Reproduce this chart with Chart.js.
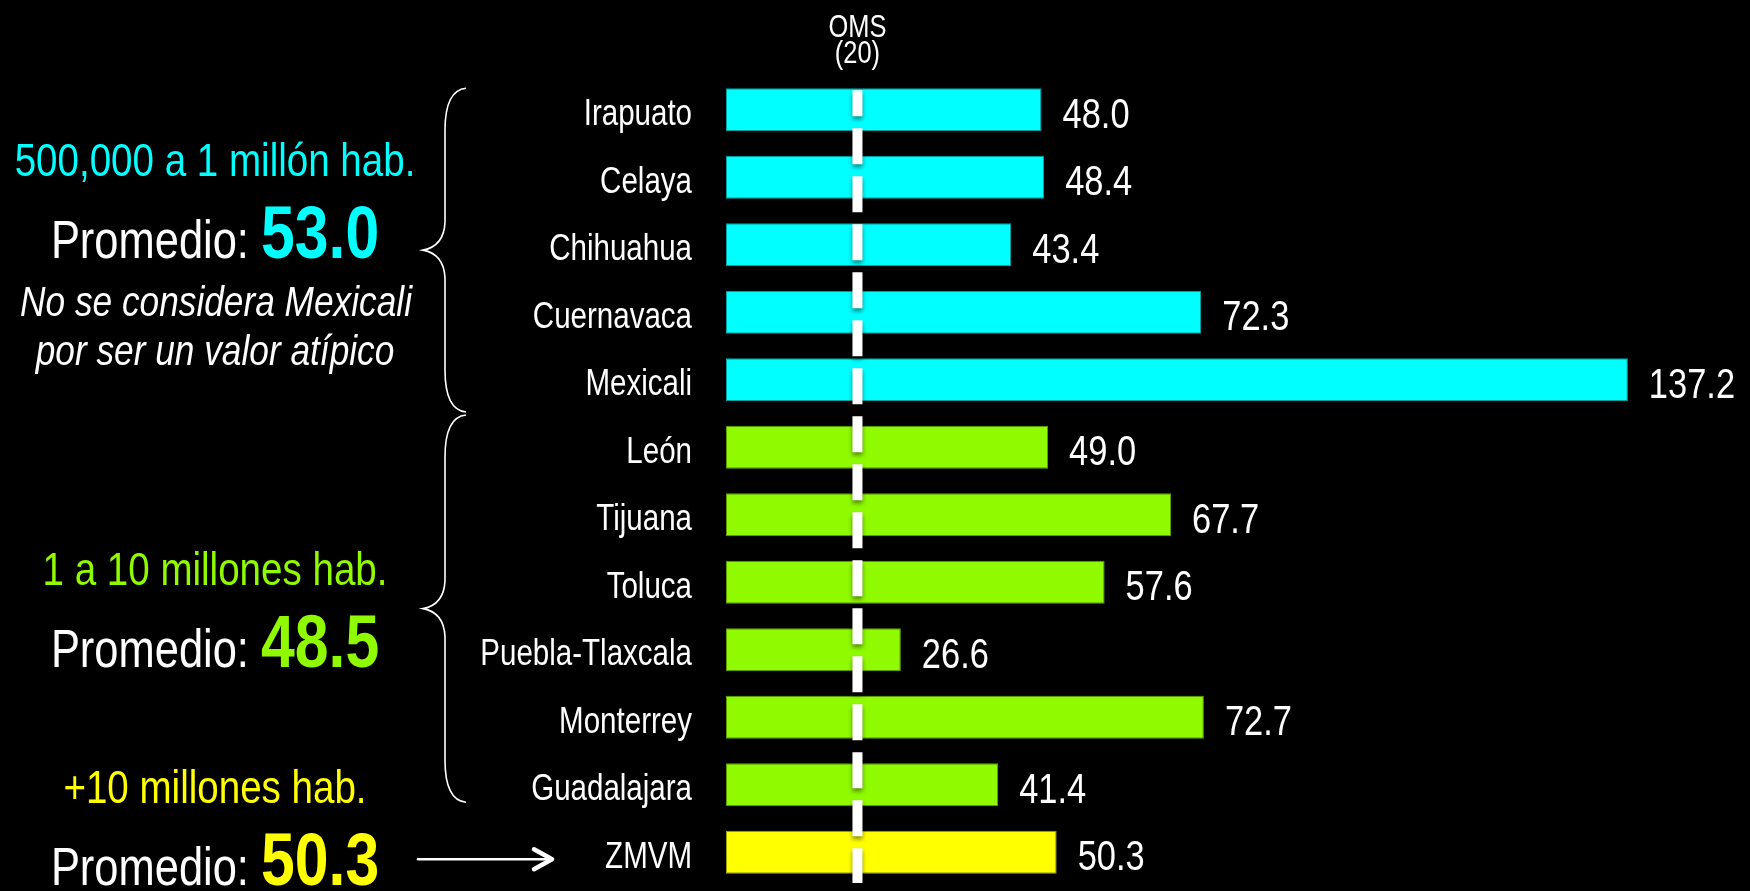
<!DOCTYPE html>
<html><head><meta charset="utf-8">
<script src="https://cdn.jsdelivr.net/npm/chart.js@4.4.0/dist/chart.umd.min.js"></script>
<style>html,body{margin:0;padding:0;background:#000;overflow:hidden}#wrap{position:relative;width:1750px;height:891px}</style>
</head><body><div id="wrap"><canvas id="c" width="1750" height="891"></canvas></div>
<script>
// ---- data ----
const cities = ['Irapuato','Celaya','Chihuahua','Cuernavaca','Mexicali','León','Tijuana','Toluca','Puebla-Tlaxcala','Monterrey','Guadalajara','ZMVM'];
const pm10 = [48.0,48.4,43.4,72.3,137.2,49.0,67.7,57.6,26.6,72.7,41.4,50.3];
const groupOf = [0,0,0,0,0,1,1,1,1,1,1,2];
const groupNames = ['500,000 a 1 millón hab.','1 a 10 millones hab.','+10 millones hab.'];
const groupAverages = ['53.0','48.5','50.3'];
const groupColors = ['#00FFFF','#8FFA00','#FFFF00'];
const groupBorders = ['#00A3A3','#5E9F00','#A3A300'];
const omsLimit = 20;
const omsLabel = ['OMS','(20)'];
const promedioLabel = 'Promedio: ';
const noteLines = ['No se considera Mexicali','por ser un valor atípico'];

// ---- fonts (Arial Narrow look: condensed Liberation Sans if no narrow face is installed) ----
function hasFont(name){const c=document.createElement('canvas').getContext('2d');const s='IrapuatoMWmw 0123';c.font='40px monospace';const a=c.measureText(s).width;c.font='40px "'+name+'", monospace';return Math.abs(c.measureText(s).width-a)>0.5;}
const narrowOK = hasFont('Liberation Sans Narrow');
const NARROW = narrowOK ? '"Liberation Sans Narrow"' : '"Liberation Sans"';
const SX = narrowOK ? 1 : 0.82;
function fontStr(size, weight, style){return (style||'normal')+' '+(weight||'normal')+' '+size+'px '+NARROW;}
function measure(ctx, s, size, weight, style){ctx.save();ctx.font=fontStr(size,weight,style);const w=ctx.measureText(s).width*SX;ctx.restore();return w;}
function drawText(ctx, s, x, y, size, o){o=o||{};ctx.save();ctx.fillStyle=o.color||'#fff';ctx.textBaseline='alphabetic';ctx.textAlign=o.align||'left';ctx.font=fontStr(size,o.weight,o.style);ctx.translate(x,y);ctx.scale(SX,1);ctx.fillText(s,0,0);ctx.restore();}

// ---- plugin: category labels, OMS line, value labels, side annotations ----
const decor = {
  id:'decor',
  afterDatasetsDraw(chart){
    const ctx = chart.ctx, xs = chart.scales.x, ys = chart.scales.y, ca = chart.chartArea;
    const meta = chart.getDatasetMeta(0);
    const half = meta.data[0].height/2;
    // category labels on the y axis
    ys.ticks.forEach((t,i)=>{ drawText(ctx, ys.getLabelForValue(t.value), ys.right-34, ys.getPixelForTick(i)+15.5, 36, {align:'right'}); });
    // OMS dashed line
    const ox = xs.getPixelForValue(omsLimit);
    ctx.save();
    ctx.strokeStyle='#fff'; ctx.lineWidth=10; ctx.setLineDash([36,12]); ctx.lineDashOffset=10;
    ctx.shadowColor='rgba(0,0,0,0.45)'; ctx.shadowBlur=4; ctx.shadowOffsetY=3;
    ctx.beginPath(); ctx.moveTo(ox, meta.data[0].y-half+2); ctx.lineTo(ox, ca.bottom-3); ctx.stroke();
    ctx.restore();
    drawText(ctx, omsLabel[0], ox, 37, 31, {align:'center'});
    drawText(ctx, omsLabel[1], ox, 63, 31, {align:'center'});
    // value labels
    meta.data.forEach((el,i)=>{ drawText(ctx, pm10[i].toFixed(1), el.x+21, el.y+18, 42); });
    // left annotations
    const cx = 215;
    const promedio = (avg, color, base) => {
      const w1 = measure(ctx, promedioLabel, 53), w2 = measure(ctx, avg, 74, 'bold');
      const x0 = cx - (w1+w2)/2;
      drawText(ctx, promedioLabel, x0, base, 53);
      drawText(ctx, avg, x0+w1, base, 74, {weight:'bold', color});
    };
    drawText(ctx, groupNames[0], cx, 176, 47, {align:'center', color:groupColors[0]});
    promedio(groupAverages[0], groupColors[0], 258);
    drawText(ctx, noteLines[0], cx+1, 316, 43, {align:'center', style:'italic'});
    drawText(ctx, noteLines[1], cx, 365, 43, {align:'center', style:'italic'});
    drawText(ctx, groupNames[1], cx, 585, 47, {align:'center', color:groupColors[1]});
    promedio(groupAverages[1], groupColors[1], 667);
    drawText(ctx, groupNames[2], cx, 803, 47, {align:'center', color:groupColors[2]});
    promedio(groupAverages[2], groupColors[2], 885);
    // braces
    const brace = (top, bottom) => {
      const xe=466, xv=445, xt=423, mid=(top+bottom)/2, r=42, r2=28;
      ctx.beginPath();
      ctx.moveTo(xe, top);
      ctx.quadraticCurveTo(xv, top+2, xv, top+r);
      ctx.lineTo(xv, mid-r2);
      ctx.quadraticCurveTo(xv-1, mid-4, xt, mid);
      ctx.quadraticCurveTo(xv-1, mid+4, xv, mid+r2);
      ctx.lineTo(xv, bottom-r);
      ctx.quadraticCurveTo(xv, bottom-2, xe, bottom);
      ctx.stroke();
    };
    ctx.save(); ctx.strokeStyle='#fff'; ctx.lineWidth=1.6;
    const split = (meta.data[4].y + meta.data[5].y)/2;
    brace(meta.data[0].y-half, split-1.5);
    brace(split+1.5, meta.data[10].y+half-4);
    ctx.restore();
    // arrow to ZMVM
    const ay = meta.data[11].y+7;
    ctx.save(); ctx.strokeStyle='#fff'; ctx.lineCap='round';
    ctx.lineWidth=2.5; ctx.beginPath(); ctx.moveTo(418, ay); ctx.lineTo(552, ay); ctx.stroke();
    ctx.lineWidth=4.5; ctx.lineJoin='round'; ctx.beginPath(); ctx.moveTo(534, ay-10); ctx.lineTo(552, ay); ctx.lineTo(534, ay+10); ctx.stroke();
    ctx.restore();
  }
};

new Chart(document.getElementById('c'), {
  type:'bar',
  data:{ labels:cities, datasets:[{ data:pm10,
    backgroundColor: groupOf.map(g=>groupColors[g]),
    borderColor: groupOf.map(g=>groupBorders[g]),
    borderWidth:1, borderSkipped:false,
    barPercentage:0.637, categoryPercentage:1 }]},
  options:{
    indexAxis:'y', responsive:false, animation:false, devicePixelRatio:1,
    layout:{padding:{left:0,right:38,top:76,bottom:5}},
    plugins:{legend:{display:false}, tooltip:{enabled:false}},
    scales:{
      x:{display:false, min:0, max:150},
      y:{ grid:{display:false, drawTicks:false}, border:{display:false},
          afterFit(s){ s.width = 726; s.paddingTop = 0; s.paddingBottom = 0; },
          ticks:{ display:true, color:'rgba(0,0,0,0)', padding:0, autoSkip:false, font:{size:12} } }
    }
  },
  plugins:[decor]
});
</script></body></html>
